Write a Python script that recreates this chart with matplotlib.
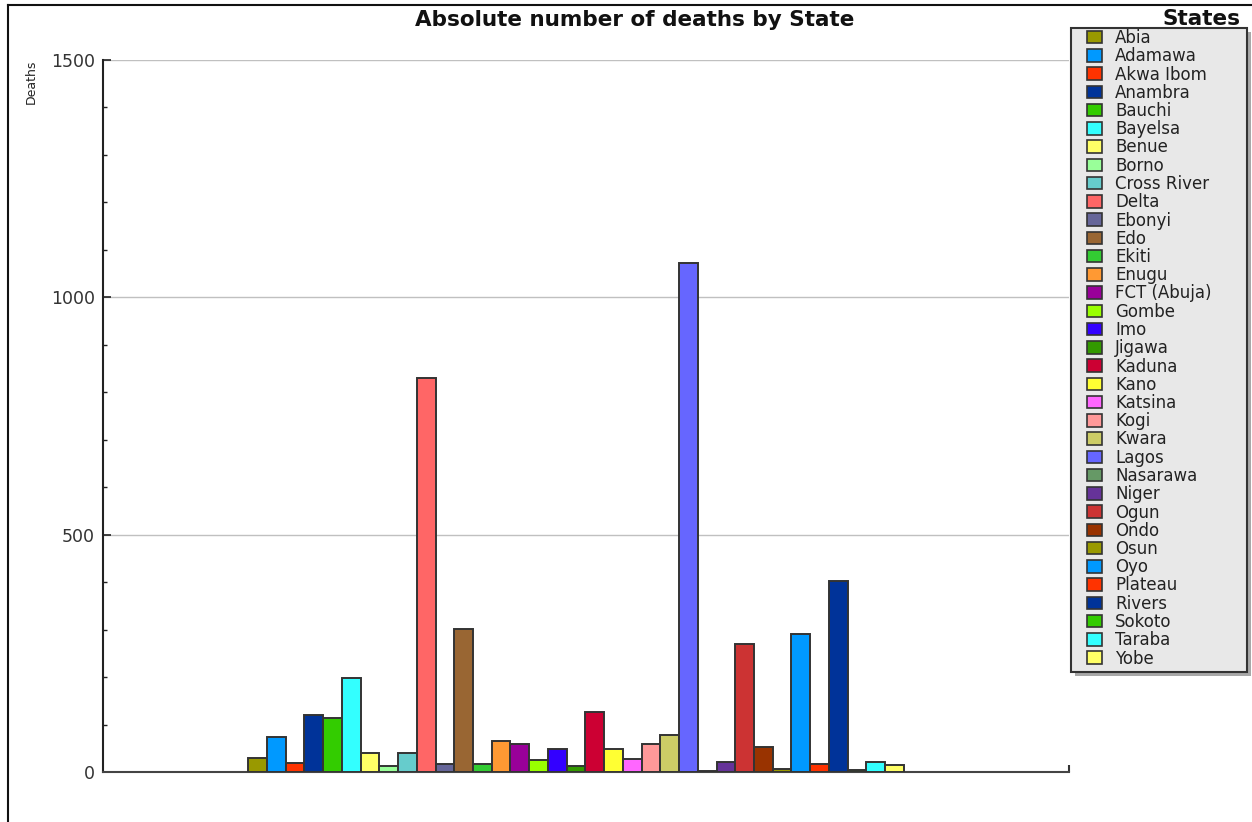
import matplotlib.pyplot as plt
from matplotlib.patches import Patch, Rectangle
from matplotlib.lines import Line2D
from matplotlib.ticker import MultipleLocator

# deaths per state
states = ["Abia", "Adamawa", "Akwa Ibom", "Anambra", "Bauchi", "Bayelsa",
          "Benue", "Borno", "Cross River", "Delta", "Ebonyi",
          "Edo", "Ekiti", "Enugu", "FCT (Abuja)",
          "Gombe", "Imo", "Jigawa", "Kaduna", "Kano", "Katsina", "Kogi",
          "Kwara", "Lagos", "Nasarawa", "Niger", "Ogun",
          "Ondo", "Osun", "Oyo", "Plateau", "Rivers", "Sokoto", "Taraba", "Yobe"]
deaths = [30, 73, 20, 120, 114, 198,
          41, 13, 39, 830, 16,
          301, 16, 65, 60,
          25, 48, 13, 126, 48, 27, 60,
          77, 1072, 2, 22, 270,
          53, 7, 291, 16, 403, 4, 22, 15]
colors = ["#999900", "#0099ff", "#ff3300", "#003399", "#33cc00", "#33ffff",
          "#ffff66", "#99ff99", "#66cccc", "#ff6666", "#666699",
          "#996633", "#33cc33", "#ff9933", "#990099",
          "#99ff00", "#3300ff", "#339900", "#cc0033", "#ffff33", "#ff66ff", "#ff9999",
          "#cccc66", "#6666ff", "#669966", "#663399", "#cc3333",
          "#993300", "#999900", "#0099ff", "#ff3300", "#003399", "#33cc00", "#33ffff", "#ffff66"]

W, H = 1252, 822
fig = plt.figure(figsize=(W / 100, H / 100), dpi=100)
ax = fig.add_axes([103 / W, 1 - 772 / H, (1069 - 103) / W, (772 - 60) / H])

x = list(range(len(states)))
ax.bar(x, deaths, width=1.0, color=colors, edgecolor="#333333", linewidth=1.4, zorder=3)

xmin, xmax = -8.257, 43.32
ax.set_xlim(xmin, xmax)
ax.set_ylim(0, 1500)
ax.yaxis.set_major_locator(MultipleLocator(500))
ax.yaxis.set_minor_locator(MultipleLocator(100))
ax.set_xticks([xmax])
ax.set_xticklabels([])
ax.tick_params(axis="x", direction="in", length=5, width=1.5, color="#333333")
ax.tick_params(axis="y", which="major", direction="in", length=6, width=1.2,
               color="#222222", labelsize=12.5, labelcolor="#333333", pad=6)
ax.tick_params(axis="y", which="minor", direction="in", length=3, width=1.0, color="#222222")
ax.grid(axis="y", color="#c0c0c0", linewidth=1.0, zorder=0)

for side in ["top", "right"]:
    ax.spines[side].set_visible(False)
ax.spines["left"].set_color("#222222")
ax.spines["left"].set_linewidth(1.5)
ax.spines["bottom"].set_color("#444444")
ax.spines["bottom"].set_linewidth(1.5)

fig.text(31 / W, 1 - 60 / H, "Deaths", rotation=90, ha="center", va="top",
         fontsize=9, color="#222222")
fig.text(635 / W, 1 - 20 / H, "Absolute number of deaths by State",
         ha="center", va="center", fontsize=15.5, fontweight="bold", color="#111111")
fig.text(1240 / W, 1 - 19 / H, "States", ha="right", va="center",
         fontsize=15.5, fontweight="bold", color="#111111")

# outer frame
fig.add_artist(Line2D([8 / W, 1], [1 - 5 / H, 1 - 5 / H], color="#111111", linewidth=1.5))
fig.add_artist(Line2D([8 / W, 8 / W], [0, 1 - 5 / H], color="#111111", linewidth=1.5))

# legend box with shadow
fig.add_artist(Rectangle((1075 / W, 1 - 676 / H), 176 / W, 644 / H,
                         facecolor="#a8a8a8", edgecolor="none", transform=fig.transFigure))
fig.add_artist(Rectangle((1071 / W, 1 - 672 / H), 176 / W, 644 / H,
                         facecolor="#e8e8e8", edgecolor="#333333", linewidth=1.5,
                         transform=fig.transFigure))

handles = [Patch(facecolor=c, edgecolor="#333333", linewidth=1.2) for c in colors]
leg = fig.legend(handles, states, loc="upper left",
                 bbox_to_anchor=(1087 / W, 1 - 29 / H), bbox_transform=fig.transFigure,
                 frameon=False, borderpad=0, borderaxespad=0, fontsize=12,
                 labelspacing=0.015, handlelength=0.9, handleheight=0.78,
                 handletextpad=0.78)
for t in leg.get_texts():
    t.set_color("#222222")

fig.savefig("out.png", dpi=100)
